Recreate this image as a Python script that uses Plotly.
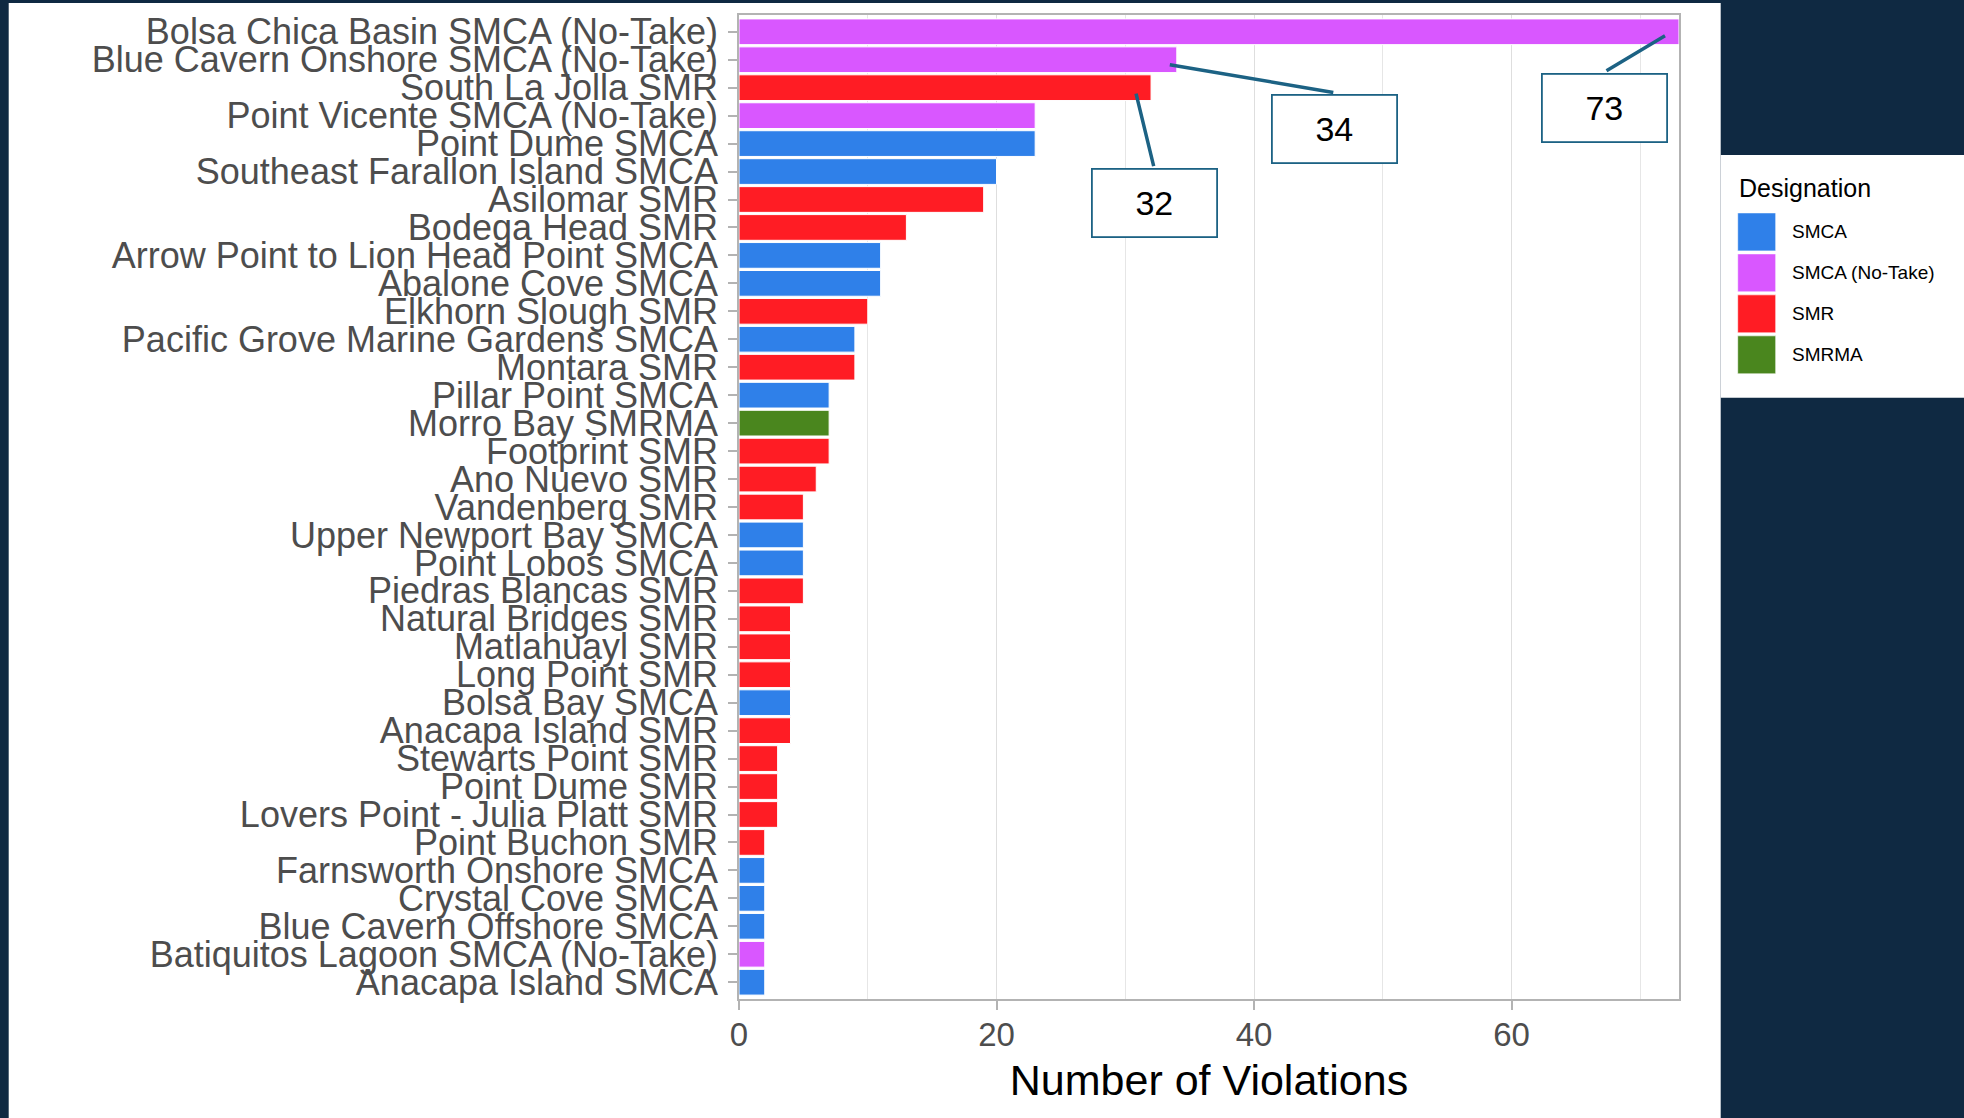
import plotly.graph_objects as go

# data (top to bottom)
sites = [
    "Bolsa Chica Basin SMCA (No-Take)", "Blue Cavern Onshore SMCA (No-Take)", "South La Jolla SMR",
    "Point Vicente SMCA (No-Take)", "Point Dume SMCA", "Southeast Farallon Island SMCA",
    "Asilomar SMR", "Bodega Head SMR", "Arrow Point to Lion Head Point SMCA", "Abalone Cove SMCA",
    "Elkhorn Slough SMR", "Pacific Grove Marine Gardens SMCA", "Montara SMR", "Pillar Point SMCA",
    "Morro Bay SMRMA", "Footprint SMR", "Ano Nuevo SMR", "Vandenberg SMR", "Upper Newport Bay SMCA",
    "Point Lobos SMCA", "Piedras Blancas SMR", "Natural Bridges SMR", "Matlahuayl SMR",
    "Long Point SMR", "Bolsa Bay SMCA", "Anacapa Island SMR", "Stewarts Point SMR", "Point Dume SMR",
    "Lovers Point - Julia Platt SMR", "Point Buchon SMR", "Farnsworth Onshore SMCA",
    "Crystal Cove SMCA", "Blue Cavern Offshore SMCA", "Batiquitos Lagoon SMCA (No-Take)",
    "Anacapa Island SMCA",
]
violations = [73, 34, 32, 23, 23, 20, 19, 13, 11, 11, 10, 9, 9, 7, 7, 7, 6, 5, 5, 5, 5,
              4, 4, 4, 4, 4, 3, 3, 3, 2, 2, 2, 2, 2, 2]
designation = [
    "SMCA (No-Take)", "SMCA (No-Take)", "SMR", "SMCA (No-Take)", "SMCA", "SMCA",
    "SMR", "SMR", "SMCA", "SMCA", "SMR", "SMCA", "SMR", "SMCA", "SMRMA", "SMR", "SMR", "SMR",
    "SMCA", "SMCA", "SMR", "SMR", "SMR", "SMR", "SMCA", "SMR", "SMR", "SMR", "SMR", "SMR",
    "SMCA", "SMCA", "SMCA", "SMCA (No-Take)", "SMCA",
]
groups = ["SMCA", "SMCA (No-Take)", "SMR", "SMRMA"]
group_colors = ["#2f80e9", "#d957ff", "#ff1c24", "#4a861e"]
x_ticks = [0, 20, 40, 60]
callouts = ["Bolsa Chica Basin SMCA (No-Take)", "Blue Cavern Onshore SMCA (No-Take)", "South La Jolla SMR"]

NAVY = "#0f2942"
LINE = "#1c6284"

# plot area in page pixels
W, H = 1964, 1118
L, R, T, B = 739.3, 1679.3, 15, 999.5


def px(x):
    return (x - L) / (R - L)


def py(y):
    return (B - y) / (B - T)


fig = go.Figure()
for g, c in zip(groups, group_colors):
    ys = [s for s, d in zip(sites, designation) if d == g]
    xs = [v for v, d in zip(violations, designation) if d == g]
    fig.add_trace(go.Bar(x=xs, y=ys, orientation="h", name=g, marker_color=c,
                         marker_line=dict(color="white", width=1), showlegend=False))

shapes = [
    dict(type="rect", xref="paper", yref="paper", x0=px(9), x1=px(1721), y0=py(1125), y1=py(3),
         fillcolor="white", line_width=0, layer="below"),
    dict(type="rect", xref="paper", yref="paper", x0=px(1721), x1=px(1970), y0=py(398), y1=py(155),
         fillcolor="white", line_width=0, layer="below"),
]
annotations = [
    dict(xref="paper", yref="paper", x=px(1737), y=py(188), text="Designation", showarrow=False,
         xanchor="left", yanchor="middle", font=dict(size=25, color="black")),
]
for i, (g, c) in enumerate(zip(groups, group_colors)):
    top = 213 + 41 * i
    shapes.append(dict(type="rect", xref="paper", yref="paper", x0=px(1738), x1=px(1776),
                       y0=py(top + 38), y1=py(top), fillcolor=c,
                       line=dict(color="rgba(255,255,255,0.6)", width=1)))
    annotations.append(dict(xref="paper", yref="paper", x=px(1790), y=py(top + 19), text=g,
                            showarrow=False, xanchor="left", yanchor="middle",
                            font=dict(size=19, color="black")))

# callout boxes (offsets in pixels from the bar end)
line_offsets = [(-14, -4, -60, 36), (-7, -5, 165, 28), (-15, -6, 18, 74)]
box_offsets = [(-75, -41), (158, -34), (3, -80)]
for site, lo, bo in zip(callouts, line_offsets, box_offsets):
    val = violations[sites.index(site)]
    annotations.append(dict(x=val, y=site, xref="x", yref="y", text="", showarrow=True,
                            arrowhead=0, arrowwidth=3.5, arrowcolor=LINE,
                            xshift=lo[0], yshift=lo[1], ax=lo[2], ay=lo[3]))
    annotations.append(dict(x=val, y=site, xref="x", yref="y", text=str(val), showarrow=False,
                            xanchor="center", yanchor="top", xshift=bo[0], yshift=bo[1],
                            width=121, height=64, borderpad=1, bordercolor=LINE, borderwidth=1.8,
                            bgcolor="white", font=dict(size=34, color="black")))

fig.update_layout(
    width=W, height=H,
    margin=dict(l=L, r=W - R, t=T, b=H - B),
    paper_bgcolor=NAVY, plot_bgcolor="white",
    font=dict(family="Liberation Sans, Arial, sans-serif"),
    barmode="overlay", bargap=0.08,
    shapes=shapes, annotations=annotations,
)
fig.update_xaxes(
    range=[0, 73], tickvals=x_ticks, showgrid=True, gridcolor="#dedede", gridwidth=1.2,
    minor=dict(dtick=10, tick0=0, showgrid=True, gridcolor="#e6e6e6", gridwidth=1),
    zeroline=False, showline=True, mirror=True, linecolor="#b3b3b3", linewidth=1.5,
    ticks="outside", ticklen=9, tickwidth=1.5, tickcolor="#b3b3b3",
    tickfont=dict(size=33, color="#4d4d4d"), ticklabelstandoff=-3,
    title=dict(text="Number of Violations", font=dict(size=43, color="black"), standoff=13),
)
fig.update_yaxes(
    categoryorder="array", categoryarray=sites, tickmode="array", tickvals=sites,
    range=[34.6, -0.6], showgrid=False,
    showline=True, mirror=True, linecolor="#b3b3b3", linewidth=1.5,
    ticks="outside", ticklen=9, tickwidth=1.5, tickcolor="#b3b3b3",
    tickfont=dict(size=36, color="#4d4d4d"), ticklabelstandoff=3,
)

fig.write_html("out.html", config={"displayModeBar": False},
               post_script="document.body.style.margin='0';"
               "document.body.style.background='" + NAVY + "';")
